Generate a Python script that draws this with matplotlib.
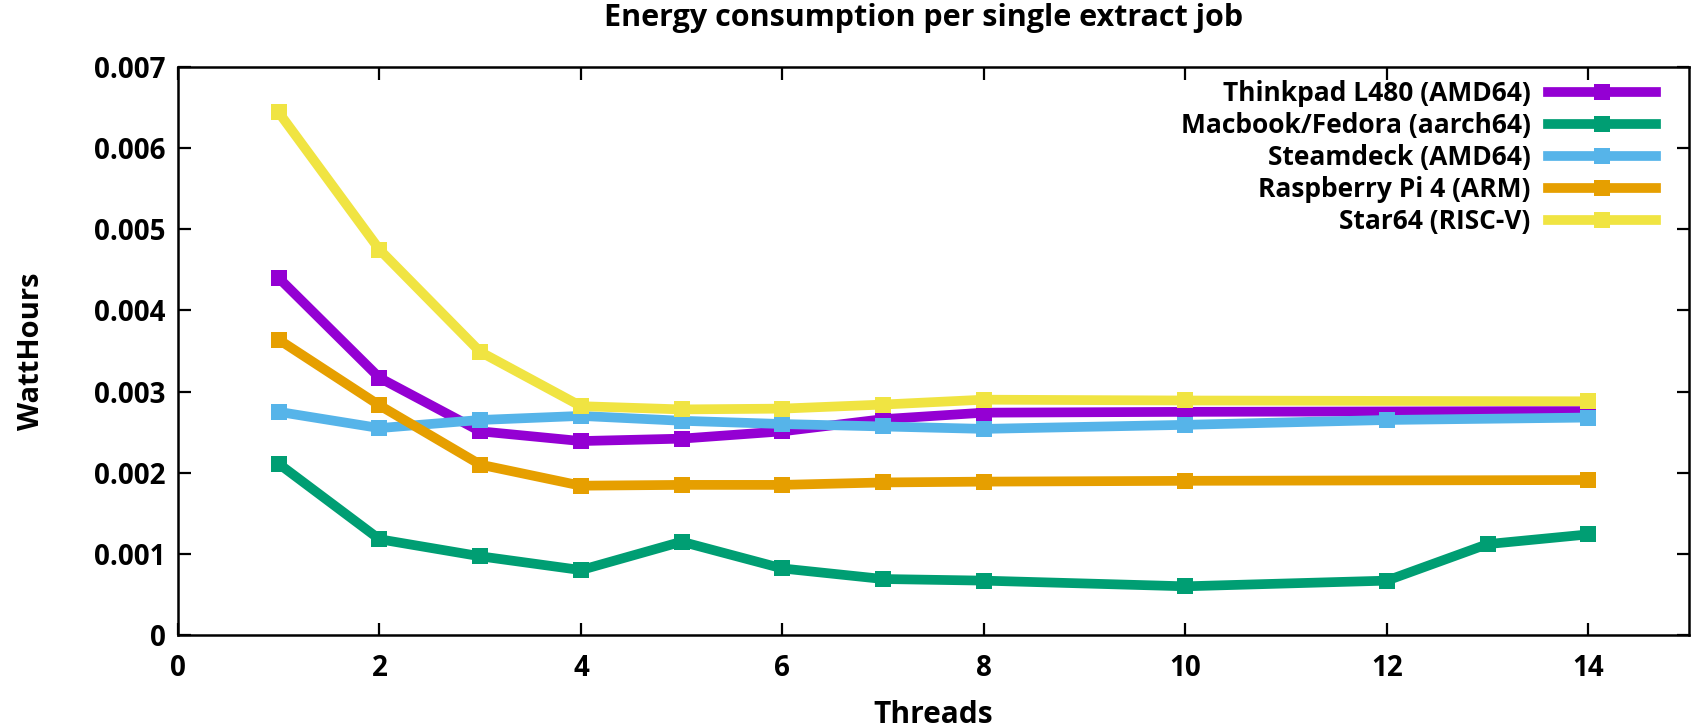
import matplotlib
matplotlib.use("Agg")
import matplotlib.pyplot as plt

# ---- data ----
thinkpad_x = [1, 2, 3, 4, 5, 6, 7, 8, 10, 14]
thinkpad_y = [0.00440, 0.00317, 0.00251, 0.00239, 0.00242, 0.00251, 0.00266, 0.00274, 0.00275, 0.00276]

macbook_x = [1, 2, 3, 4, 5, 6, 7, 8, 10, 12, 13, 14]
macbook_y = [0.00211, 0.00118, 0.00097, 0.00080, 0.00115, 0.00082, 0.00069, 0.00067, 0.00060, 0.00067, 0.00112, 0.00124]

steamdeck_x = [1, 2, 3, 4, 5, 6, 7, 8, 10, 12, 14]
steamdeck_y = [0.00275, 0.00255, 0.00265, 0.00270, 0.00264, 0.00260, 0.00257, 0.00254, 0.00259, 0.00265, 0.00268]

rpi_x = [1, 2, 3, 4, 5, 6, 7, 8, 10, 14]
rpi_y = [0.00364, 0.00283, 0.00210, 0.00184, 0.00185, 0.00185, 0.00188, 0.00189, 0.00190, 0.00191]

star_x = [1, 2, 3, 4, 5, 6, 7, 8, 10, 14]
star_y = [0.00644, 0.00475, 0.00349, 0.00282, 0.00278, 0.00279, 0.00284, 0.00290, 0.00289, 0.00288]

series_labels = ["Thinkpad L480 (AMD64)", "Macbook/Fedora (aarch64)", "Steamdeck (AMD64)",
                 "Raspberry Pi 4 (ARM)", "Star64 (RISC-V)"]
series_colors = ["#9400D3", "#009E73", "#56B4E9", "#E69F00", "#F0E442"]

x_ticks = [0, 2, 4, 6, 8, 10, 12, 14]
y_ticks = [0, 0.001, 0.002, 0.003, 0.004, 0.005, 0.006, 0.007]
y_tick_labels = ["0", "0.001", "0.002", "0.003", "0.004", "0.005", "0.006", "0.007"]

title = "Energy consumption per single extract job"
x_label = "Threads"
y_label = "WattHours"

# ---- style ----
plt.rcParams["font.family"] = ["Open Sans", "DejaVu Sans"]
plt.rcParams["font.weight"] = "bold"
FS = 20
LFS = 19

fig = plt.figure(figsize=(16.92, 7.27), dpi=100)
ax = fig.add_axes([178 / 1692, 1 - 635 / 727, (1689 - 178) / 1692, (635 - 67) / 727])

xs = [thinkpad_x, macbook_x, steamdeck_x, rpi_x, star_x]
ys = [thinkpad_y, macbook_y, steamdeck_y, rpi_y, star_y]
for x, y, lab, c in zip(xs, ys, series_labels, series_colors):
    ax.plot(x, y, color=c, linewidth=7, marker="s", markersize=11,
            markeredgewidth=0, label=lab, solid_joinstyle="miter")

ax.set_xlim(0, 15)
ax.set_ylim(0, 0.007)
ax.set_xticks(x_ticks)
ax.set_xticklabels([str(t) for t in x_ticks])
ax.set_yticks(y_ticks)
ax.set_yticklabels(y_tick_labels)
ax.tick_params(axis="both", direction="in", length=9, width=1.6, top=True, right=True,
               labelsize=FS)
ax.tick_params(axis="x", pad=14)
ax.tick_params(axis="y", pad=9)
for s in ax.spines.values():
    s.set_linewidth(1.8)

fig.text(924 / 1692, 1 - 18 / 727, title, ha="center", va="center", fontsize=22, fontweight="bold")
fig.text(933 / 1692, 1 - 715 / 727, x_label, ha="center", va="center", fontsize=21.5, fontweight="bold")
fig.text(32 / 1692, 1 - 351 / 727, y_label, ha="center", va="center", rotation=90, fontsize=21,
         fontweight="bold")

leg = ax.legend(loc="upper right", bbox_to_anchor=(0.978, 0.977), markerfirst=False, frameon=False,
                fontsize=LFS, handlelength=4.1, handletextpad=0.65, labelspacing=0.19,
                borderpad=0, borderaxespad=0)

fig.savefig("out.png", dpi=100)
